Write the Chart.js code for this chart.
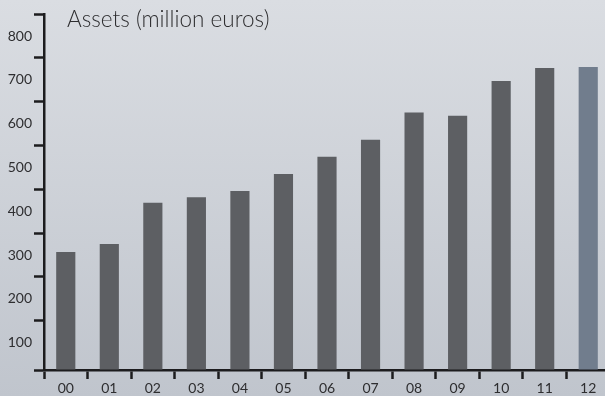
<!DOCTYPE html>
<html>
<head>
<meta charset="utf-8">
<script src="https://cdn.jsdelivr.net/npm/chart.js@4"></script>
<style>
    html, body {
        margin: 0;
        padding: 0;
        overflow: hidden;
        width: 605px;
        height: 396px;
        background: linear-gradient(#dadde2, #c0c5cd);
    }
    #wrap {
        position: relative;
        width: 610px;
        height: 396px;
    }
</style>
</head>
<body>
<div id="wrap"><canvas id="assetsChart"></canvas></div>
<script>
// Data
const years = ['00', '01', '02', '03', '04', '05', '06', '07', '08', '09', '10', '11', '12'];
const assets = [257, 275, 369, 382, 396, 435, 474, 513, 575, 568, 647, 677, 679];
const yTickValues = [100, 200, 300, 400, 500, 600, 700, 800];
const yMin = -12.5;
const yMax = 800;

const barColor = '#5d5f63';
const lastBarColor = '#717d8d';
const axisColor = '#1c1c1e';
const textColor = '#2e2e30';

// Title drawn at top-left inside the plot
const titlePlugin = {
    id: 'cornerTitle',
    afterDraw(chart) {
        const ctx = chart.ctx;
        ctx.save();
        ctx.font = '300 22.5px Lato';
        ctx.fillStyle = textColor;
        ctx.textBaseline = 'middle';
        ctx.textAlign = 'left';
        ctx.fillText('Assets (million euros)', 67, 20);
        ctx.restore();
    }
};

function initializeAssetsChart() {
    const ctx = document.getElementById('assetsChart');
    new Chart(ctx, {
        type: 'bar',
        data: {
            labels: years,
            datasets: [{
                label: 'Assets',
                data: assets,
                base: yMin,
                backgroundColor: years.map((y, i) => i === years.length - 1 ? lastBarColor : barColor),
                borderWidth: 0,
                categoryPercentage: 1,
                barPercentage: 0.44
            }]
        },
        options: {
            responsive: true,
            maintainAspectRatio: false,
            animation: false,
            layout: {
                padding: { top: 14, right: 0, left: 0, bottom: 0 }
            },
            plugins: {
                legend: { display: false },
                tooltip: { enabled: false }
            },
            scales: {
                x: {
                    offset: true,
                    afterFit: (scale) => { scale.height = 26; },
                    border: { color: axisColor, width: 2.5 },
                    grid: {
                        offset: true,
                        drawOnChartArea: false,
                        tickLength: 9,
                        tickWidth: 2.5,
                        tickColor: axisColor
                    },
                    ticks: {
                        color: textColor,
                        padding: 1,
                        font: { family: 'Lato', size: 14 },
                        maxRotation: 0
                    }
                },
                y: {
                    min: yMin,
                    max: yMax,
                    afterFit: (scale) => { scale.width = 44; },
                    afterBuildTicks: (scale) => {
                        scale.ticks = [yMin].concat(yTickValues).map(v => ({ value: v }));
                    },
                    border: { color: axisColor, width: 2.5 },
                    grid: {
                        drawOnChartArea: false,
                        tickLength: 10,
                        tickWidth: 2.5,
                        tickColor: axisColor
                    },
                    ticks: {
                        color: textColor,
                        padding: 2,
                        labelOffset: 22,
                        font: { family: 'Lato', size: 14 },
                        callback: (val) => val > 0 ? val : ''
                    }
                }
            }
        },
        plugins: [titlePlugin]
    });
}

initializeAssetsChart();
</script>
</body>
</html>
